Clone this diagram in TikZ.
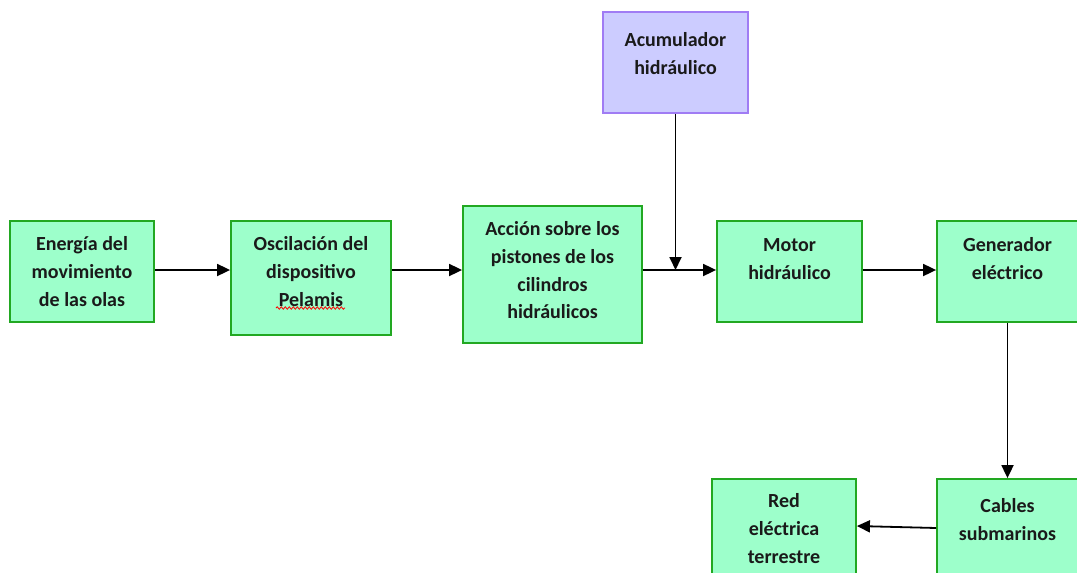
\documentclass[tikz,border=0pt]{standalone}
\usepackage{fontspec}
\setmainfont{Carlito}
\usetikzlibrary{arrows.meta,decorations.pathmorphing}
\definecolor{boxfill}{HTML}{9DFFCB}
\definecolor{boxdraw}{HTML}{22A822}
\definecolor{accfill}{HTML}{CCCCFF}
\definecolor{accdraw}{HTML}{A07CF4}
\definecolor{txt}{HTML}{1A1A1A}
\tikzset{
  blk/.style={draw=boxdraw, fill=boxfill, line width=1.8pt, inner sep=0pt},
  acc/.style={draw=accdraw, fill=accfill, line width=1.8pt, inner sep=0pt},
  txtlbl/.style={anchor=north, align=center, inner sep=0pt, text=txt,
    font=\fontsize{20}{27.7}\selectfont\bfseries},
  arr/.style={-{Triangle[length=13pt,width=12pt]}, line width=1.8pt, black},
}
\begin{document}
\begin{tikzpicture}[x=1pt,y=-1pt]
\useasboundingbox (0,0) rectangle (1077,573);
\clip (0,0) rectangle (1077,573);
\fill[white] (0,0) rectangle (1077,573);
\coordinate (r) at (0,270);

\node[blk, minimum width=144pt, minimum height=101pt,
  label={[txtlbl, yshift=-16.5pt]north:Energía del\\movimiento\\de las olas}] (b1) at (82,271.5) {};
\node[blk, minimum width=160pt, minimum height=114pt,
  label={[txtlbl, yshift=-16.5pt]north:Oscilación del\\dispositivo\\Pelamis}] (b2) at (311,278) {};
\node[blk, minimum width=179pt, minimum height=137pt,
  label={[txtlbl, yshift=-16.5pt]north:Acción sobre los\\pistones de los\\cilindros\\hidráulicos}] (b3) at (552.5,274.5) {};
\node[acc, minimum width=145pt, minimum height=101pt,
  label={[txtlbl, yshift=-21.5pt]north:Acumulador\\hidráulico}] (acu) at (675.5,62.5) {};
\node[blk, minimum width=145pt, minimum height=101pt,
  label={[txtlbl, yshift=-18.5pt]north:Motor\\hidráulico}] (mot) at (789.5,271.5) {};
\node[blk, minimum width=141pt, minimum height=101pt,
  label={[txtlbl, yshift=-17.5pt]north:Generador\\eléctrico}] (gen) at (1007.5,271.5) {};
\node[blk, minimum width=141pt, minimum height=101pt,
  label={[txtlbl, yshift=-20.5pt]north:Cables\\submarinos}] (cab) at (1007.5,529.5) {};
\node[blk, minimum width=144pt, minimum height=101pt,
  label={[txtlbl, yshift=-15.5pt]north:Red\\eléctrica\\terrestre}] (red) at (784,529.5) {};

% spell-check squiggle under "Pelamis"
\coordinate (sq1) at (276,308);
\coordinate (sq2) at (345,308);
\draw[red, line width=0.8pt, decorate, decoration={snake, amplitude=1.2pt, segment length=4pt}] (sq1) -- (sq2);

\draw[arr] (b1.east|-r) -- (b2.west|-r);
\draw[arr] (b2.east|-r) -- (b3.west|-r);
\draw[arr] (b3.east|-r) -- (mot.west|-r);
\draw[arr] (acu.south) -- (acu.south|-r);
\draw[arr] (mot.east|-r) -- (gen.west|-r);
\draw[arr] (gen.south) -- (cab.north);
\draw[arr] ([yshift=1.5pt]cab.west) -- ([yshift=3.5pt]red.east);
\end{tikzpicture}
\end{document}
